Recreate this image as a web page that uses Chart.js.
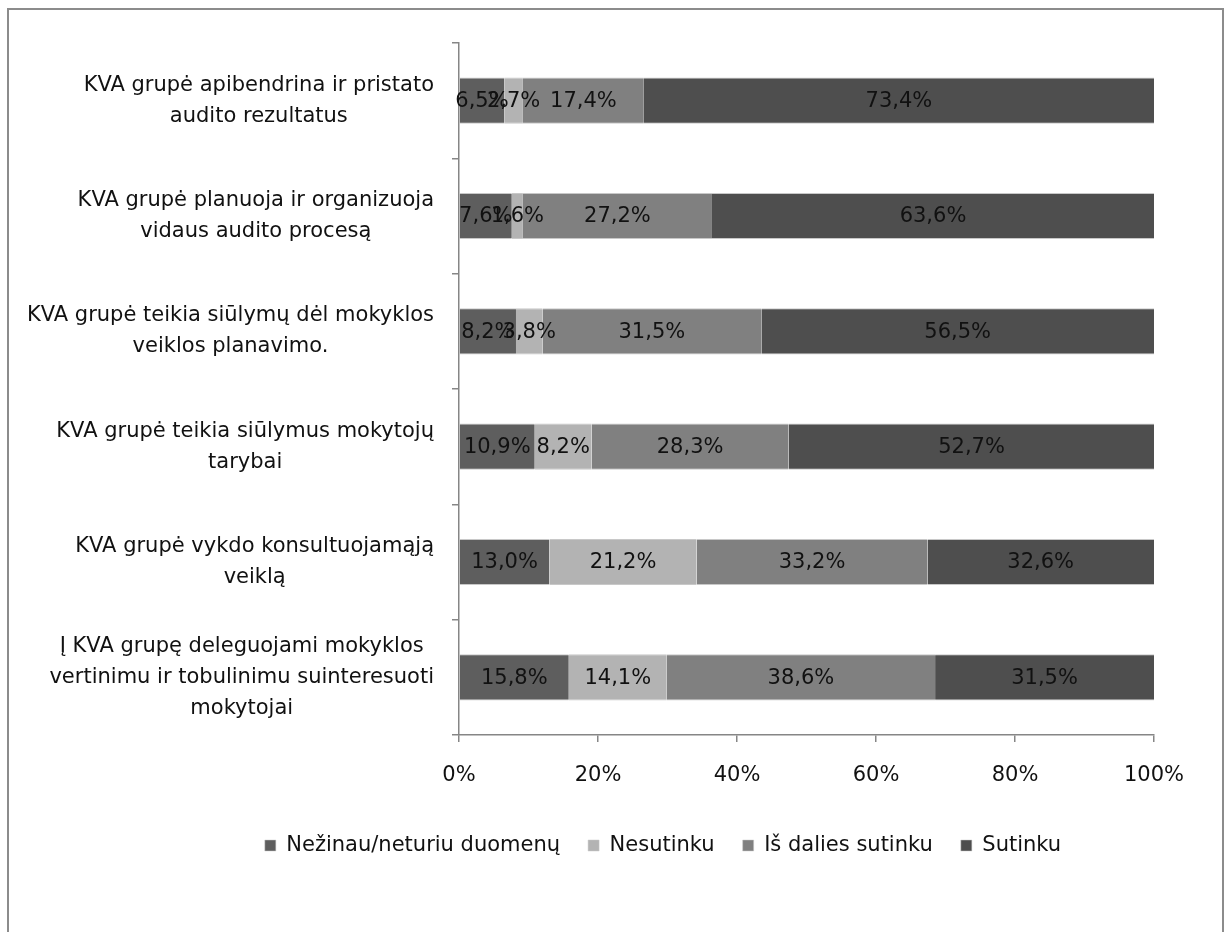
<!DOCTYPE html>
<html>
<head>
<meta charset="utf-8">
<script src="https://cdn.jsdelivr.net/npm/chart.js@4.4.1/dist/chart.umd.min.js"></script>
<style>
  body { margin: 0; background: #fff; }
  #frame { position: absolute; left: 7px; top: 8px; width: 1213px; height: 1000px; border: 2px solid #8c8c8c; }
  #wrap { position: absolute; left: 0; top: 0; width: 1229px; height: 932px; }
</style>
</head>
<body>
<div id="frame"></div>
<div id="wrap"><canvas id="chart"></canvas></div>
<script>
// categories, top to bottom
var categories = [
	["KVA grupė apibendrina ir pristato", "audito rezultatus"],
	["KVA grupė planuoja ir organizuoja", "vidaus audito procesą"],
	["KVA grupė teikia siūlymų dėl mokyklos", "veiklos planavimo."],
	["KVA grupė teikia siūlymus mokytojų", "tarybai"],
	["KVA grupė vykdo konsultuojamąją", "veiklą"],
	["Į KVA grupę deleguojami mokyklos", "vertinimu ir tobulinimu suinteresuoti", "mokytojai"]
];
var seriesNames = ["Nežinau/neturiu duomenų", "Nesutinku", "Iš dalies sutinku", "Sutinku"];
var nezinau = [6.5, 7.6, 8.2, 10.9, 13.0, 15.8];
var nesutinku = [2.7, 1.6, 3.8, 8.2, 21.2, 14.1];
var isDalies = [17.4, 27.2, 31.5, 28.3, 33.2, 38.6];
var sutinku = [73.4, 63.6, 56.5, 52.7, 32.6, 31.5];
var xTicks = [0, 20, 40, 60, 80, 100];

var FONT = "DejaVu Sans";
var FSIZE = 21;
var colors = ["#5e5e5e", "#b3b3b3", "#808080", "#4e4e4e"];
var values = [nezinau, nesutinku, isDalies, sutinku];

var datasets = [];
for (var i = 0; i < seriesNames.length; i++) {
	datasets.push({
		label: seriesNames[i],
		data: values[i],
		backgroundColor: colors[i],
		borderColor: "#c8c8c8",
		borderWidth: {top: 1, bottom: 1, left: 0, right: 0},
		borderSkipped: false,
		categoryPercentage: 1,
		barPercentage: 0.4
	});
}

function fmt(v) {
	return v.toFixed(1).replace(".", ",") + "%";
}

// labels inside the segments
var valueLabels = {
	id: "valueLabels",
	afterDatasetsDraw: function(chart) {
		var ctx = chart.ctx;
		ctx.save();
		ctx.font = FSIZE + "px " + FONT;
		ctx.fillStyle = "#111";
		ctx.textAlign = "center";
		ctx.textBaseline = "middle";
		chart.data.datasets.forEach(function(ds, d) {
			var meta = chart.getDatasetMeta(d);
			meta.data.forEach(function(el, j) {
				ctx.fillText(fmt(ds.data[j]), (el.x + el.base) / 2, el.y + 1);
			});
		});
		ctx.restore();
	}
};

// category labels: each block right aligned, its lines centred
var catLabels = {
	id: "catLabels",
	afterDraw: function(chart) {
		var ctx = chart.ctx;
		var ys = chart.scales.y;
		var xr = ys.right - 25;
		var lh = 31;
		ctx.save();
		ctx.font = FSIZE + "px " + FONT;
		ctx.fillStyle = "#111";
		ctx.textAlign = "center";
		ctx.textBaseline = "middle";
		categories.forEach(function(lines, i) {
			var w = 0;
			lines.forEach(function(l) { w = Math.max(w, ctx.measureText(l).width); });
			var cx = xr - w / 2;
			var y0 = ys.getPixelForValue(i) - (lines.length - 1) * lh / 2;
			lines.forEach(function(l, k) {
				ctx.fillText(l, cx, y0 + k * lh);
			});
		});
		ctx.restore();
	}
};

var ctx1 = document.getElementById("chart");
var chart1 = new Chart(ctx1, {
	type: "bar",
	data: {
		labels: categories,
		datasets: datasets
	},
	options: {
		indexAxis: "y",
		responsive: true,
		maintainAspectRatio: false,
		animation: false,
		layout: {
			// left padding shifts the legend centre like the original
			padding: {top: 43, right: 75, bottom: 66, left: 172}
		},
		scales: {
			x: {
				stacked: true,
				min: 0,
				max: 100,
				afterBuildTicks: function(scale) {
					scale.ticks = xTicks.map(function(v) { return {value: v}; });
				},
				afterFit: function(scale) { scale.height = 72; },
				grid: {drawOnChartArea: false, tickLength: 7, color: "#868686", lineWidth: 1.5},
				border: {color: "#868686", width: 1.5},
				ticks: {
					padding: 21,
					color: "#111",
					font: {family: FONT, size: FSIZE},
					maxRotation: 0,
					callback: function(v) { return v + "%"; }
				}
			},
			y: {
				stacked: true,
				afterFit: function(scale) { scale.width = 459 - 172; },
				grid: {drawOnChartArea: false, tickLength: 7, color: "#868686", lineWidth: 1.5, offset: true},
				border: {color: "#868686", width: 1.5},
				ticks: {display: false}
			}
		},
		plugins: {
			legend: {
				position: "bottom",
				labels: {
					boxWidth: 11,
					boxHeight: 11,
					padding: 28,
					color: "#111",
					font: {family: FONT, size: FSIZE}
				}
			},
			tooltip: {enabled: false}
		}
	},
	plugins: [valueLabels, catLabels]
});
</script>
</body>
</html>
